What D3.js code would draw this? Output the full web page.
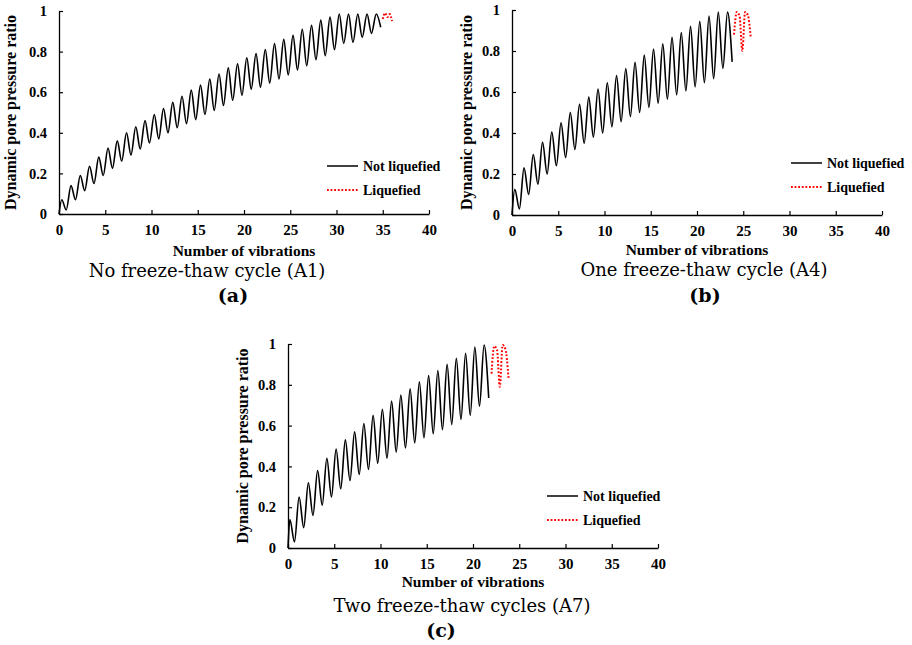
<!DOCTYPE html>
<html><head><meta charset="utf-8">
<script src="https://cdn.jsdelivr.net/npm/d3@7"></script>
<style>body{margin:0;background:#fff}svg{display:block}</style>
</head><body>
<script>
// ---------- DATA ----------
const xTicks = [0, 5, 10, 15, 20, 25, 30, 35, 40];
const yTicks = [0, 0.2, 0.4, 0.6, 0.8, 1];
const seriesNames = ["Not liquefied", "Liquefied"];
const titles = ["No freeze-thaw cycle (A1)", "One freeze-thaw cycle (A4)", "Two freeze-thaw cycles (A7)"];
const labels = ["(a)", "(b)", "(c)"];

// peak / trough pore pressure ratio in each vibration cycle (Not liquefied)
const peaksA = [0.07,0.14,0.19,0.235,0.28,0.325,0.36,0.40,0.43,0.46,0.49,0.52,0.55,0.58,0.61,0.635,0.665,0.69,0.72,0.74,0.77,0.79,0.81,0.84,0.86,0.88,0.91,0.93,0.955,0.97,0.985,0.985,0.985,0.985,0.985];
const troughsA = [0.02,0.07,0.115,0.15,0.19,0.225,0.26,0.29,0.32,0.35,0.37,0.40,0.425,0.445,0.465,0.49,0.51,0.535,0.56,0.585,0.615,0.625,0.645,0.665,0.685,0.71,0.73,0.76,0.78,0.81,0.84,0.845,0.87,0.89,0.92];
const peaksB = [0.125,0.23,0.295,0.355,0.405,0.45,0.50,0.54,0.575,0.615,0.645,0.68,0.715,0.745,0.78,0.81,0.835,0.867,0.89,0.92,0.945,0.97,0.99,0.99];
const troughsB = [0.03,0.10,0.15,0.20,0.24,0.28,0.32,0.35,0.38,0.40,0.43,0.455,0.48,0.50,0.525,0.545,0.565,0.586,0.605,0.625,0.645,0.665,0.715,0.747];
const peaksC = [0.14,0.25,0.32,0.38,0.44,0.485,0.53,0.57,0.61,0.65,0.68,0.72,0.75,0.78,0.815,0.845,0.87,0.90,0.93,0.955,0.985,0.995];
const troughsC = [0.03,0.10,0.16,0.21,0.25,0.29,0.33,0.36,0.385,0.415,0.44,0.47,0.49,0.515,0.54,0.56,0.58,0.605,0.63,0.65,0.695,0.735];

// Liquefied segments (vibration number, ratio)
const liqXA = [35.0,35.25,35.5,35.75,36.0];
const liqYA = [0.96,0.99,0.97,0.985,0.95];
const liqXB = [24.0,24.3,24.6,24.9,25.2,25.5,25.8];
const liqYB = [0.88,0.99,0.97,0.80,0.99,0.975,0.87];
const liqXC = [22.0,22.3,22.6,22.9,23.2,23.5,23.85];
const liqYC = [0.855,0.99,0.97,0.79,0.995,0.975,0.83];

// ---------- LAYOUT ----------
const W = 912, H = 645;
const panels = [
  {peaks: peaksA, troughs: troughsA, lx: liqXA, ly: liqYA, pPh: 0.3, tPh: 0.78,
   left: 59, top: 11, w: 370, h: 203, title: titles[0], lab: labels[0], tcx: 207, tcy: 277, lcx: 233, lcy: 302,
   xtY: 256, ylX: 16, legX: 327, legY: 166},
  {peaks: peaksB, troughs: troughsB, lx: liqXB, ly: liqYB, pPh: 0.3, tPh: 0.8,
   left: 512, top: 10, w: 370, h: 205, title: titles[1], lab: labels[1], tcx: 704, tcy: 276, lcx: 705, lcy: 302,
   xtY: 255, ylX: 472, legX: 791, legY: 163},
  {peaks: peaksC, troughs: troughsC, lx: liqXC, ly: liqYC, pPh: 0.2, tPh: 0.7,
   left: 288, top: 344, w: 370, h: 204, title: titles[2], lab: labels[2], tcx: 462, tcy: 612, lcx: 441, lcy: 637,
   xtY: 587, ylX: 248, legX: 547, legY: 496}
];

const svg = d3.select("body").append("svg").attr("width", W).attr("height", H);
const serif = "'Liberation Serif','Times New Roman',serif";

panels.forEach(p => {
  const x = d3.scaleLinear().domain([0, 40]).range([p.left, p.left + p.w]);
  const y = d3.scaleLinear().domain([0, 1]).range([p.top + p.h, p.top]);
  const g = svg.append("g");

  // axes
  const xa = g.append("g").attr("transform", `translate(0,${p.top + p.h})`)
    .call(d3.axisBottom(x).tickValues(xTicks).tickSizeInner(-4).tickSizeOuter(0).tickPadding(10).tickFormat(d3.format("d")));
  const ya = g.append("g").attr("transform", `translate(${p.left},0)`)
    .call(d3.axisLeft(y).tickValues(yTicks).tickSizeInner(-4).tickSizeOuter(0).tickPadding(12).tickFormat(d => d === 0 || d === 1 ? d3.format("d")(d) : d3.format(".1f")(d)));
  [xa, ya].forEach(a => {
    a.select(".domain").attr("stroke", "#000").attr("stroke-width", 1.3);
    a.selectAll(".tick line").attr("stroke", "#000").attr("stroke-width", 1.2);
    a.selectAll("text").attr("font-family", serif).attr("font-weight", "bold").attr("fill", "#000");
  });
  xa.selectAll("text").attr("font-size", 15);
  ya.selectAll("text").attr("font-size", 14.5);

  // not liquefied curve
  const pts = [[0, 0]];
  p.peaks.forEach((v, i) => { pts.push([i + p.pPh, v]); pts.push([i + p.tPh, p.troughs[i]]); });
  const line = d3.line().x(d => x(d[0])).y(d => y(d[1])).curve(d3.curveMonotoneX);
  g.append("path").datum(pts).attr("d", line).attr("fill", "none").attr("stroke", "#000").attr("stroke-width", 1.6);

  // liquefied curve
  const lp = p.lx.map((v, i) => [v, p.ly[i]]);
  g.append("path").datum(lp).attr("d", line).attr("fill", "none").attr("stroke", "#ff0000")
    .attr("stroke-width", 2).attr("stroke-dasharray", "1.8,1.8");

  // axis titles
  g.append("text").attr("x", p.left + p.w / 2).attr("y", p.xtY).attr("text-anchor", "middle")
    .attr("font-family", serif).attr("font-weight", "bold").attr("font-size", 15.5).text("Number of vibrations");
  g.append("text").attr("transform", `translate(${p.ylX},${p.top + p.h / 2}) rotate(-90)`).attr("text-anchor", "middle")
    .attr("font-family", serif).attr("font-weight", "bold").attr("font-size", 16).text("Dynamic pore pressure ratio");

  // legend
  const leg = g.append("g");
  leg.append("line").attr("x1", p.legX).attr("x2", p.legX + 31).attr("y1", p.legY).attr("y2", p.legY)
    .attr("stroke", "#000").attr("stroke-width", 1.5);
  leg.append("line").attr("x1", p.legX).attr("x2", p.legX + 31).attr("y1", p.legY + 24).attr("y2", p.legY + 24)
    .attr("stroke", "#ff0000").attr("stroke-width", 2).attr("stroke-dasharray", "1.8,1.8");
  leg.append("text").attr("x", p.legX + 36).attr("y", p.legY + 5).attr("font-family", serif).attr("font-weight", "bold")
    .attr("font-size", 14).text(seriesNames[0]);
  leg.append("text").attr("x", p.legX + 36).attr("y", p.legY + 29).attr("font-family", serif).attr("font-weight", "bold")
    .attr("font-size", 14).text(seriesNames[1]);

  // panel titles
  g.append("text").attr("x", p.tcx).attr("y", p.tcy).attr("text-anchor", "middle")
    .attr("font-family", "'DejaVu Serif',serif").attr("font-size", 18).text(p.title);
  g.append("text").attr("x", p.lcx).attr("y", p.lcy).attr("text-anchor", "middle")
    .attr("font-family", "'DejaVu Serif',serif").attr("font-weight", "bold").attr("font-size", 19).text(p.lab);
});
</script>
</body></html>
